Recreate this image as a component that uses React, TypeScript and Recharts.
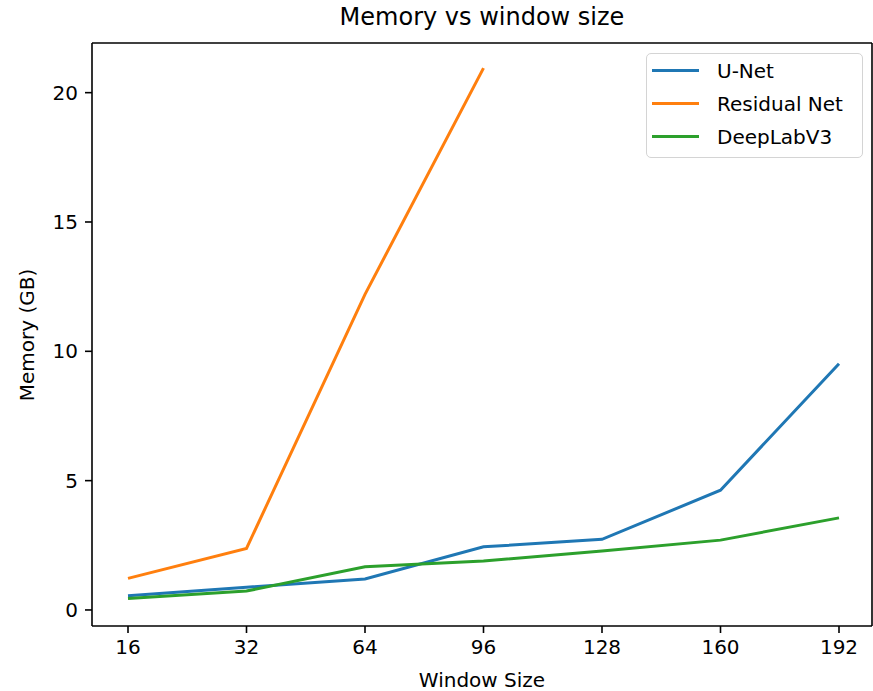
import React from "react";
import { LineChart, Line, XAxis, YAxis, Legend } from "recharts";

// window sizes on the x axis
const windowSizes = ["16", "32", "64", "96", "128", "160", "192"];
// memory in GB per model
const unetMem = [0.55, 0.88, 1.2, 2.44, 2.73, 4.63, 9.52];
const residualMem: (number | null)[] = [1.22, 2.38, 12.2, 20.95, null, null, null];
const deeplabMem = [0.44, 0.73, 1.67, 1.89, 2.28, 2.7, 3.56];
const yTicks = [0, 5, 10, 15, 20];
const legendOrder = ["U-Net", "Residual Net", "DeepLabV3"];

const data = windowSizes.map((size, i) => ({
    size,
    unet: unetMem[i],
    residual: residualMem[i],
    deeplab: deeplabMem[i],
}));

const FONT = "'DejaVu Sans', sans-serif";
const tickStyle = { fontSize: 20, fill: "#000", fontFamily: FONT };
const spine = { stroke: "#000", strokeWidth: 1.6 };

const LegendBox = (props: any) => {
    const items = [...(props.payload || [])].sort(
        (a: any, b: any) => legendOrder.indexOf(a.value) - legendOrder.indexOf(b.value)
    );
    return (
        <div
            style={{
                border: "1.5px solid #d4d4d4",
                borderRadius: 5,
                background: "rgba(255,255,255,0.8)",
                padding: "0px 10px 4px 5px",
                fontFamily: FONT,
                fontSize: 20,
                color: "#000",
            }}
        >
            {items.map((it: any) => (
                <div key={it.value} style={{ display: "flex", alignItems: "center", height: 33 }}>
                    <span style={{ display: "inline-block", width: 47, height: 3, background: it.color, marginRight: 18 }} />
                    <span>{it.value}</span>
                </div>
            ))}
        </div>
    );
};

export default function App() {
    return (
        <div style={{ position: "absolute", left: 0, top: 0, width: 873, height: 691, background: "#fff" }}>
            <div style={{ position: "absolute", left: 0, width: 964, top: 5, textAlign: "center", fontFamily: FONT, fontSize: 24, lineHeight: 1 }}>
                Memory vs window size
            </div>
            <div style={{ position: "absolute", left: 0, width: 964, top: 670, textAlign: "center", fontFamily: FONT, fontSize: 20, lineHeight: 1 }}>
                Window Size
            </div>
            <div
                style={{
                    position: "absolute",
                    left: 27,
                    top: 335,
                    transform: "translate(-50%, -50%) rotate(-90deg)",
                    whiteSpace: "nowrap",
                    fontFamily: FONT,
                    fontSize: 20,
                    lineHeight: 1,
                }}
            >
                Memory (GB)
            </div>
            <LineChart width={873} height={691} data={data} margin={{ top: 42, right: 0, bottom: 0, left: 0 }}>
                <XAxis
                    dataKey="size"
                    height={65}
                    padding={{ left: 36, right: 33 }}
                    tick={tickStyle}
                    tickSize={7}
                    tickMargin={7}
                    axisLine={spine}
                    tickLine={spine}
                    interval={0}
                />
                <XAxis xAxisId="top" orientation="top" dataKey="size" height={1} tick={false} tickLine={false} axisLine={spine} />
                <YAxis
                    width={92}
                    domain={[-0.62, 21.92]}
                    ticks={yTicks}
                    allowDataOverflow
                    tick={tickStyle}
                    tickSize={7}
                    tickMargin={7}
                    axisLine={spine}
                    tickLine={spine}
                />
                <YAxis yAxisId="right" orientation="right" width={1} domain={[0, 1]} tick={false} tickLine={false} axisLine={spine} />
                <Legend
                    layout="vertical"
                    verticalAlign="middle"
                    align="center"
                    content={LegendBox}
                    wrapperStyle={{ top: 53, left: 646, width: 217 }}
                />
                <Line type="linear" dataKey="unet" name="U-Net" stroke="#1f77b4" strokeWidth={3} dot={false} isAnimationActive={false} />
                <Line type="linear" dataKey="residual" name="Residual Net" stroke="#ff7f0e" strokeWidth={3} dot={false} isAnimationActive={false} />
                <Line type="linear" dataKey="deeplab" name="DeepLabV3" stroke="#2ca02c" strokeWidth={3} dot={false} isAnimationActive={false} />
            </LineChart>
        </div>
    );
}
